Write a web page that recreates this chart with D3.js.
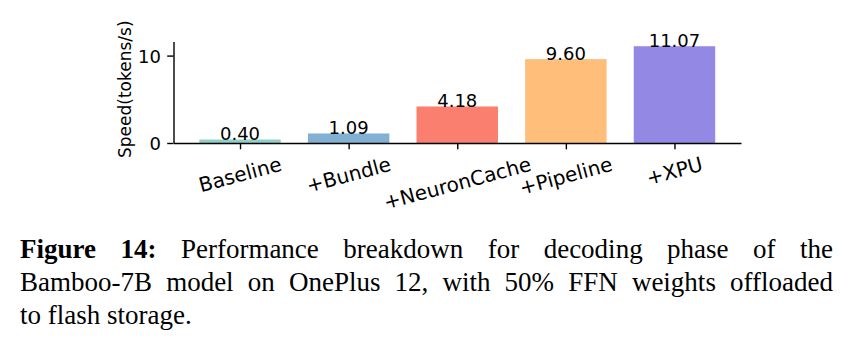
<!DOCTYPE html>
<html>
<head>
<meta charset="utf-8">
<script src="https://cdn.jsdelivr.net/npm/d3@7"></script>
<style>
  html, body { margin: 0; padding: 0; background: #fff; }
  svg { display: block; }
</style>
</head>
<body>
<svg id="chart" width="846" height="346"></svg>
<script>
// ---- data ----
const categories = ["Baseline", "+Bundle", "+NeuronCache", "+Pipeline", "+XPU"];
const speeds = [0.40, 1.09, 4.18, 9.60, 11.07];
const valueLabels = ["0.40", "1.09", "4.18", "9.60", "11.07"];
const barColors = ["#8ECFC9", "#82B0D2", "#FA7F6F", "#FFBE7A", "#9388E3"];
const yTicks = [0, 10];
const yLabel = "Speed(tokens/s)";
const captionLines = [
  [{t: "Figure", b: true}, {t: "14:", b: true}, "Performance", "breakdown", "for", "decoding", "phase", "of", "the"],
  ["Bamboo-7B", "model", "on", "OnePlus", "12,", "with", "50%", "FFN", "weights", "offloaded"],
  ["to", "flash", "storage."]
];

// ---- layout ----
const svg = d3.select("#chart");
const plot = { left: 173.5, right: 741, top: 41.4, bottom: 143 };
const font = "'DejaVu Sans', sans-serif";
const fs = 18;
const xfs = 20;
const tickLen = 6.3, tickPad = 6.3;
const barWidth = 0.75;

const n = categories.length;
const xMin = -barWidth / 2, xMax = (n - 1) + barWidth / 2;
const xMargin = (xMax - xMin) * 0.05;
const x = d3.scaleLinear().domain([xMin - xMargin, xMax + xMargin]).range([plot.left, plot.right]);
const yMaxData = d3.max(speeds);
const y = d3.scaleLinear().domain([0, yMaxData * 1.05]).range([plot.bottom, plot.top]);

// bars
svg.append("g").selectAll("rect").data(speeds).join("rect")
  .attr("x", (d, i) => x(i - barWidth / 2))
  .attr("width", (d, i) => x(i + barWidth / 2) - x(i - barWidth / 2))
  .attr("y", d => y(d))
  .attr("height", d => y(0) - y(d))
  .attr("fill", (d, i) => barColors[i]);

// value labels
svg.append("g").selectAll("text").data(speeds).join("text")
  .attr("x", (d, i) => x(i))
  .attr("y", d => y(d) + 0.8)
  .attr("text-anchor", "middle")
  .attr("font-family", font)
  .attr("font-size", fs)
  .attr("fill", "#000")
  .text((d, i) => valueLabels[i]);

// y axis
const yAxis = d3.axisLeft(y).tickValues(yTicks).tickFormat(d3.format("d"))
  .tickSize(tickLen).tickPadding(tickPad).tickSizeOuter(0);
const gy = svg.append("g").attr("transform", `translate(${plot.left},0)`).call(yAxis);
gy.selectAll("text").attr("font-family", font).attr("font-size", fs).attr("fill", "#000").attr("dy", "0.36em");

// x axis
const xAxis = d3.axisBottom(x).tickValues(d3.range(n)).tickFormat(i => categories[i])
  .tickSize(tickLen).tickPadding(tickPad).tickSizeOuter(0);
const gx = svg.append("g").attr("transform", `translate(0,${plot.bottom})`).call(xAxis);

[gx, gy].forEach(g => {
  g.select(".domain").attr("stroke", "#000").attr("stroke-width", 1.4);
  g.selectAll(".tick line").attr("stroke", "#000").attr("stroke-width", 1.4);
});

// rotated x tick labels (15deg, centered, bbox top at pad)
const theta = 15 * Math.PI / 180;
gx.selectAll(".tick text").each(function () {
  const t = d3.select(this);
  t.attr("font-family", font).attr("font-size", xfs).attr("fill", "#000")
   .attr("text-anchor", "middle").attr("dy", null).attr("y", 0.262 * xfs);
  const w = this.getComputedTextLength();
  const h = xfs;
  const bh = w * Math.sin(theta) + h * Math.cos(theta);
  const cy = tickLen + tickPad + bh / 2;
  t.attr("transform", `translate(0,${cy}) rotate(-15)`);
});

// y label
svg.append("text")
  .attr("transform", `translate(131,${(plot.top + plot.bottom) / 2 - 3}) rotate(-90)`)
  .attr("text-anchor", "middle")
  .attr("font-family", font)
  .attr("font-size", 17)
  .attr("fill", "#000")
  .text(yLabel);

// caption (justified)
const capLeft = 20, capRight = 833, capFs = 27;
const baselines = [258, 291, 324];
captionLines.forEach((words, li) => {
  const g = svg.append("g");
  const nodes = words.map(w => {
    const word = typeof w === "string" ? {t: w, b: false} : w;
    return g.append("text")
      .attr("y", baselines[li])
      .attr("font-family", "'Liberation Serif', 'Times New Roman', serif")
      .attr("font-size", capFs)
      .attr("font-weight", word.b ? "bold" : "normal")
      .attr("fill", "#000")
      .text(word.t);
  });
  const widths = nodes.map(nd => nd.node().getComputedTextLength());
  const total = d3.sum(widths);
  const justify = li < captionLines.length - 1;
  const space = justify ? (capRight - capLeft - total) / (nodes.length - 1) : capFs * 0.25;
  let cx = capLeft;
  nodes.forEach((nd, i) => { nd.attr("x", cx); cx += widths[i] + space; });
});
</script>
</body>
</html>
